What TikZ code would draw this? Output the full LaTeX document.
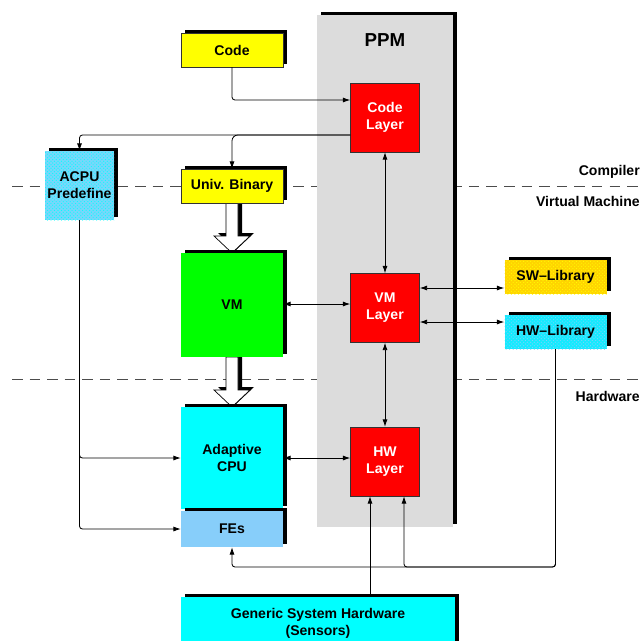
\documentclass[tikz,border=0pt]{standalone}
\usepackage{fontspec}
\setmainfont{Liberation Sans}
\usetikzlibrary{shadows,patterns,arrows.meta}

\definecolor{feblue}{RGB}{135,206,250}
\definecolor{acpublue}{RGB}{120,215,250}
\definecolor{hwlibblue}{RGB}{20,235,255}
\definecolor{swgold}{RGB}{255,212,0}
\definecolor{ppmgray}{RGB}{220,220,220}
\definecolor{hwcyan}{RGB}{0,255,255}
\definecolor{codeyellow}{RGB}{255,255,0}
\definecolor{vmgreen}{RGB}{0,255,0}
\definecolor{layerred}{RGB}{255,0,0}

\begin{document}
\begin{tikzpicture}
[x=0.03cm,y=-0.03cm,%
  >={Latex[length=2.2mm,width=1.5mm]},%
  every node/.style={font=\fontsize{12}{14.5}\selectfont\bfseries,align=center,inner sep=0pt},%
  shade box/.style={general shadow={fill=black,shadow xshift=0.12cm,shadow yshift=0.09cm}},%
  wide box/.style={shade box,minimum width=3.06cm,minimum height=1.02cm},%
  layer/.style={draw=black!80,fill=layerred,text=white,minimum width=2.07cm,minimum height=2.07cm},%
  link/.style={<->,line width=0.7pt},%
  wire/.style={->,line width=0.7pt,rounded corners=2.5pt}]
\useasboundingbox (0,0) rectangle (641,641);
%% level separators
\draw[black!70,line width=0.8pt,dash pattern=on 9pt off 6pt] (12,186) -- (641,186);
\draw[black!70,line width=0.8pt,dash pattern=on 9pt off 6pt] (12,379) -- (641,379);
\node[anchor=east] (compiler) at (640,172) {Compiler};
\node[anchor=east] (virtual) at (640,201) {Virtual Machine};
\node[anchor=east] (hardware) at (640,396) {Hardware};
%% PPM frame
\node[shade box,fill=ppmgray,minimum width=4.08cm,minimum height=15.36cm] (ppm) at (385,271) {};
\node[font=\fontsize{16}{18}\selectfont\bfseries] (ppmlabel) at (385,40) {PPM};
%% hollow arrows
\foreach \ytop/\ytip in {203/253,357/407}
  \draw[fill=white,line width=0.6pt,shade box] (226,\ytop) -- (238,\ytop) -- (238,\ytip-17)
    -- (250,\ytip-17) -- (232,\ytip) -- (214,\ytip-17) -- (226,\ytip-17) -- cycle;
%% boxes
\node[wide box,fill=codeyellow,draw=black!80] (code) at (232,50) {Code};
\node[wide box,fill=codeyellow,draw=black!80] (univ) at (232,186) {Univ. Binary};
\node[shade box,fill=acpublue,postaction={pattern=crosshatch dots,pattern color=hwcyan},
  minimum width=2.07cm,minimum height=2.07cm] (acpu) at (79.5,185.5) {ACPU\\Predefine};
\node[shade box,fill=vmgreen,minimum width=3.06cm,minimum height=3.12cm] (vm) at (232,305) {VM};
\node[shade box,fill=hwcyan,minimum width=3.06cm,minimum height=3.06cm] (cpu) at (232,458) {Adaptive\\CPU};
\node[shade box,fill=feblue,minimum width=3.06cm,minimum height=1.08cm] (fes) at (232,529) {FEs};
\node[layer] (codelayer) at (385,117.5) {Code\\Layer};
\node[layer] (vmlayer) at (385,308) {VM\\Layer};
\node[layer] (hwlayer) at (385,461.5) {HW\\Layer};
\node[wide box,fill=swgold,postaction={pattern=crosshatch dots,pattern color=codeyellow}] (swlib) at (555.5,277) {SW--Library};
\node[wide box,fill=hwlibblue,postaction={pattern=crosshatch dots,pattern color=feblue}] (hwlib) at (555.5,332) {HW--Library};
\node[shade box,fill=hwcyan,minimum width=8.22cm,minimum height=1.56cm] (generic) at (318,623) {Generic System Hardware\\(Sensors)};
%% connectors
\draw[wire] (code.south) |- (codelayer.west |- 0,100);
\draw[wire] (codelayer.west |- 0,135) -| (acpu.north);
\draw[->,line width=0.7pt,rounded corners=5pt] (codelayer.west |- 0,135) -| (univ.north);
\draw[link] (codelayer) -- (vmlayer);
\draw[link] (vmlayer) -- (hwlayer);
\draw[link] (vmlayer.west |- 0,304) -- (vm.east |- 0,304);
\draw[link] (vmlayer.east |- 0,288) -- (swlib.west |- 0,288);
\draw[link] (vmlayer.east |- 0,322) -- (hwlib.west |- 0,322);
\draw[link] (cpu.east) -- (hwlayer.west |- cpu.east);
\draw[wire] (acpu.south) |- (cpu.west);
\draw[wire] (acpu.south) |- (fes.west);
\coordinate (hwjoin) at (404,567);
\draw[wire] (hwlib.south) |- (fes.south |- hwjoin) -- (fes.south);
\draw[wire] (hwlib.south) |- (hwjoin) -- (hwlayer.south -| hwjoin);
\draw[->,line width=0.7pt] (generic.north -| 370,0) -- (hwlayer.south -| 370,0);
\end{tikzpicture}
\end{document}
